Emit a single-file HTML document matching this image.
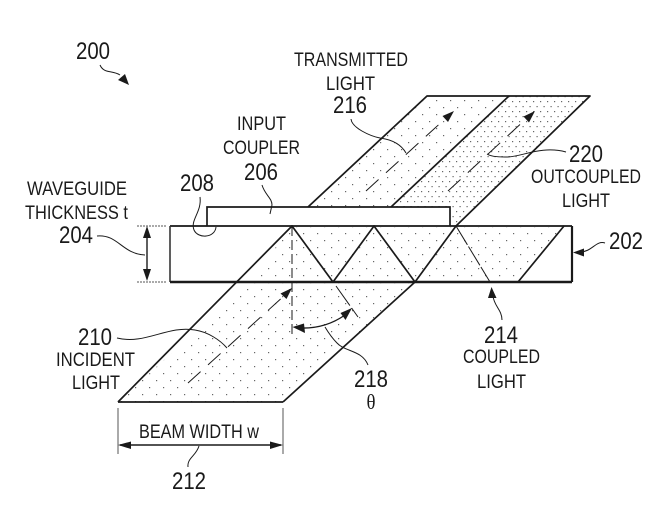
<!DOCTYPE html>
<html><head><meta charset="utf-8"><style>
html,body{margin:0;padding:0;background:#fff}
svg{display:block}
text{font-family:"Liberation Sans",sans-serif;fill:#1a1a1a}
.n{font-size:24px}
.t{font-size:19px}
.l{fill:none;stroke:#1a1a1a;stroke-width:1}
.b{fill:none;stroke:#1a1a1a;stroke-width:1.7}
.d{fill:none;stroke:#1a1a1a;stroke-width:1;stroke-dasharray:17 10}
</style></head><body>
<svg width="672" height="514" viewBox="0 0 672 514" xmlns="http://www.w3.org/2000/svg">
<defs>
<pattern id="p1" width="14" height="14" patternUnits="userSpaceOnUse"><rect x="2" y="2" width="1.2" height="1.2" fill="#666"/><rect x="9" y="9" width="1.2" height="1.2" fill="#666"/></pattern>
<pattern id="p2" width="7" height="10" patternUnits="userSpaceOnUse"><rect x="1" y="1" width="1.2" height="1.2" fill="#666"/><rect x="4.5" y="6" width="1.2" height="1.2" fill="#666"/></pattern>
</defs>
<polygon points="118,402 283,402 415,282 249,282" fill="url(#p1)"/>
<polygon points="249,282 292,226 564,226 518,282" fill="url(#p1)"/>
<polygon points="308,207 427,96 509,96 391,207" fill="url(#p1)"/>
<polygon points="391,207 509,96 590,96 456,226 450,226 450,207" fill="url(#p2)"/>
<!-- waveguide -->
<path d="M170 226V282" class="b" style="stroke-width:1.4"/>
<path d="M170 226H572" class="b" style="stroke-width:2;stroke:#333"/>
<path d="M170 282H572" class="b" style="stroke-width:2.4"/>
<path d="M572 226V282" class="b" style="stroke-width:2.2"/>
<!-- coupler -->
<path d="M207 226V207H450V226" class="b"/>
<!-- beams -->
<path d="M118 402H283" class="b"/>
<path d="M118 402L292 226L333 282L374 226L415 282L456 226L590 96H427L308 207" class="b" stroke-linejoin="round"/>
<path d="M283 402L415 282" class="b"/>
<path d="M391 207L509 96" class="b"/>
<path d="M518 282L564 226" class="b"/>
<!-- dashed -->
<path d="M188 383L285 295" class="d"/>
<polygon points="292,288 280.500,293.500 286.500,299" fill="#1a1a1a"/>
<path d="M292 226V337" class="d" style="stroke-dasharray:10 4"/>
<path d="M336 286L358 317" class="d" style="stroke-dasharray:24 3"/>
<path d="M456 226L490 282" class="d" style="stroke-dasharray:22 2"/>
<path d="M366 191L446 118" class="d"/>
<polygon points="454,111 442.500,116 448,122" fill="#1a1a1a"/>
<path d="M448 191L527 118" class="d"/>
<polygon points="535,111 523.500,116.500 529,122.500" fill="#1a1a1a"/>
<!-- theta arc -->
<path d="M300 328Q325 329 345 315" class="l" style="stroke-width:1.3"/>
<polygon points="292.500,327 304,323.500 305,333" fill="#1a1a1a"/>
<polygon points="352,308 340.500,313 345.500,320" fill="#1a1a1a"/>
<!-- thickness -->
<path d="M137 226H166M137 282H166" class="l" style="stroke-dasharray:2 1;stroke:#555"/>
<path d="M147 230V278" class="l" style="stroke-width:1.4"/>
<polygon points="147,226 143,238 151,238" fill="#1a1a1a"/>
<polygon points="147,281 143,269 151,269" fill="#1a1a1a"/>
<!-- beam width -->
<path d="M118 408V454M283 408V454" class="l" style="stroke:#555"/>
<path d="M120 445H281" class="l" style="stroke-width:1.4"/>
<polygon points="118,445 131,441.500 131,449" fill="#1a1a1a"/>
<polygon points="283,445 270,441.500 270,449" fill="#1a1a1a"/>
<!-- leaders -->
<path d="M100 65C104 74 112 70 120 75" class="l"/>
<polygon points="129,85 118,80 125,74" fill="#1a1a1a"/>
<path d="M97 236C118 234 122 254 145 255" class="l"/>
<path d="M200 197C202 212 190 220 194 230C198 239 215 238 216 227" class="l"/>
<path d="M262 185C265 195 272 198 272 205L270 214" class="l"/>
<path d="M117 338C145 345 168 325 195 330C208 332 220 340 227 348" class="l"/>
<path d="M199 446C196 456 187 458 188 467" class="l"/>
<path d="M368 365C362 350 345 352 337 343C331 337 328 332 325 327" class="l"/>
<path d="M351 119C352 128 370 136 380 138C395 140 402 146 406 153" class="l"/>
<path d="M566 152C540 145 520 158 505 157C495 157 490 156 487 154" class="l"/>
<path d="M605 243C596 240 592 252 580 252" class="l"/>
<polygon points="573,252.500 584,248.500 584,256.500" fill="#1a1a1a"/>
<path d="M502 320C502 310 494 306 493 296" class="l"/>
<polygon points="491.500,287 488,298 496.500,298" fill="#1a1a1a"/>
<!-- text -->
<text class="n" x="76" y="59" textLength="34" lengthAdjust="spacingAndGlyphs">200</text>
<text class="t" x="294" y="66" textLength="114" lengthAdjust="spacingAndGlyphs">TRANSMITTED</text>
<text class="t" x="326" y="90" textLength="49" lengthAdjust="spacingAndGlyphs">LIGHT</text>
<text class="n" x="333" y="113" textLength="34" lengthAdjust="spacingAndGlyphs">216</text>
<text class="t" x="237" y="130" textLength="49" lengthAdjust="spacingAndGlyphs">INPUT</text>
<text class="t" x="223" y="154" textLength="77" lengthAdjust="spacingAndGlyphs">COUPLER</text>
<text class="n" x="244" y="180" textLength="34" lengthAdjust="spacingAndGlyphs">206</text>
<text class="n" x="180" y="191" textLength="34" lengthAdjust="spacingAndGlyphs">208</text>
<text class="t" x="27" y="195" textLength="100" lengthAdjust="spacingAndGlyphs">WAVEGUIDE</text>
<text class="t" x="25" y="219" textLength="103" lengthAdjust="spacingAndGlyphs">THICKNESS t</text>
<text class="n" x="59" y="243" textLength="34" lengthAdjust="spacingAndGlyphs">204</text>
<text class="n" x="569" y="162" textLength="34" lengthAdjust="spacingAndGlyphs">220</text>
<text class="t" x="531" y="183" textLength="110" lengthAdjust="spacingAndGlyphs">OUTCOUPLED</text>
<text class="t" x="562" y="207" textLength="48" lengthAdjust="spacingAndGlyphs">LIGHT</text>
<text class="n" x="609" y="249" textLength="34" lengthAdjust="spacingAndGlyphs">202</text>
<text class="n" x="78" y="345" textLength="34" lengthAdjust="spacingAndGlyphs">210</text>
<text class="t" x="56" y="366" textLength="79" lengthAdjust="spacingAndGlyphs">INCIDENT</text>
<text class="t" x="72" y="389" textLength="48" lengthAdjust="spacingAndGlyphs">LIGHT</text>
<text class="n" x="484" y="343" textLength="34" lengthAdjust="spacingAndGlyphs">214</text>
<text class="t" x="463" y="363" textLength="77" lengthAdjust="spacingAndGlyphs">COUPLED</text>
<text class="t" x="477" y="388" textLength="49" lengthAdjust="spacingAndGlyphs">LIGHT</text>
<text class="n" x="354" y="387" textLength="34" lengthAdjust="spacingAndGlyphs">218</text>
<text x="366.500" y="409" textLength="9" lengthAdjust="spacingAndGlyphs" style="font-family:'Liberation Serif',serif;font-size:21px">θ</text>
<text class="t" x="139" y="438" textLength="120" lengthAdjust="spacingAndGlyphs">BEAM WIDTH w</text>
<text class="n" x="172" y="489" textLength="34" lengthAdjust="spacingAndGlyphs">212</text>
</svg>
</body></html>
